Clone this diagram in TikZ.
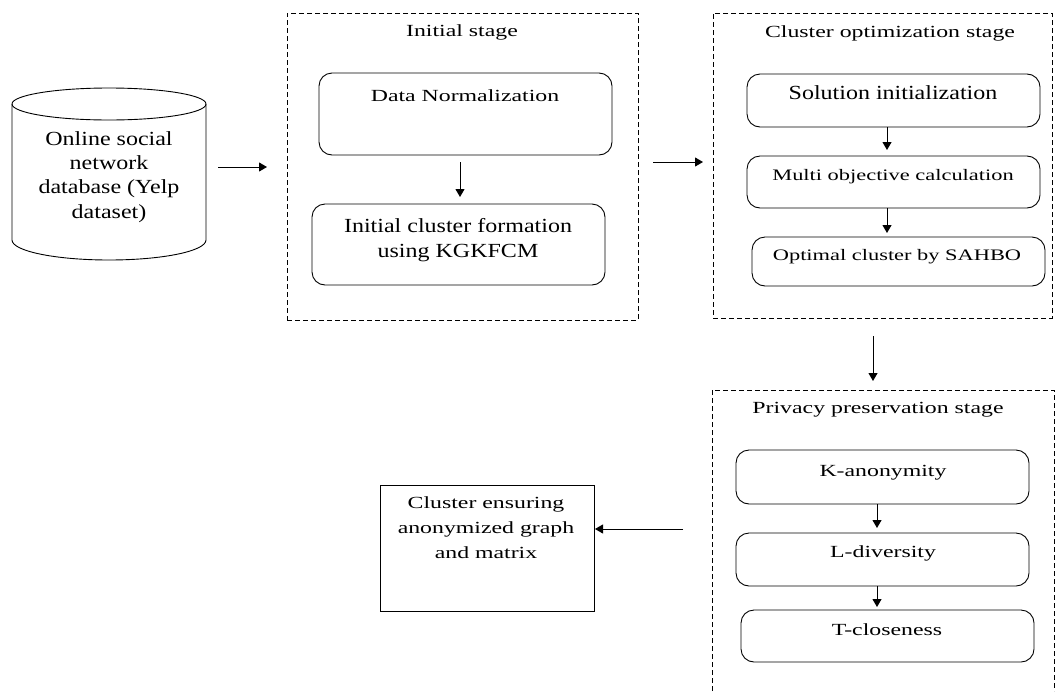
\documentclass[tikz,border=0pt]{standalone}
\usepackage{fontspec}
\setmainfont{Liberation Serif}
\newfontfamily\fS[FakeStretch=1.4]{Liberation Serif}
\newfontfamily\fM[FakeStretch=1.2]{Liberation Serif}
\usetikzlibrary{arrows.meta}
\begin{document}
\begin{tikzpicture}[x=1pt,y=-1pt,
  rbox/.style={draw,line width=0.9pt,rounded corners=13pt,inner sep=0pt,outer sep=0pt},
  sbox/.style={draw,line width=0.9pt,inner sep=0pt,outer sep=0pt},
  stagebox/.style={draw,line width=0.9pt,dash pattern=on 5pt off 3pt,inner sep=0pt,outer sep=0pt},
  arr/.style={line width=1pt,-{Triangle[length=8pt,width=9pt]}},
  tS/.style={inner sep=0pt,font=\fS\fontsize{17}{25}\selectfont},
  tSs/.style={inner sep=0pt,font=\fS\fontsize{16}{24}\selectfont},
  tM/.style={inner sep=0pt,font=\fM\fontsize{20}{24.4}\selectfont}]
\useasboundingbox (0,0) rectangle (1056,691);
% database cylinder
\draw[line width=0.9pt] (12,104) -- (12,240) arc[start angle=180,end angle=0,x radius=97,y radius=20] -- (206,104);
\draw[line width=0.9pt] (109,104) ellipse[x radius=97,y radius=16];
\node[tM,align=center,anchor=north] (db) at (109,131) {Online social\\network\\database (Yelp\\dataset)};
\coordinate (dbR) at (206,167);
% initial stage
\node[stagebox,minimum width=351pt,minimum height=307pt] (s1) at (462.5,166.5) {};
\node[tS,anchor=base] (s1t) at (462,36) {Initial stage};
\node[rbox,minimum width=293pt,minimum height=82pt] (dn) at (465.5,114) {};
\node[tS,anchor=base] (dnt) at (465,101) {Data Normalization};
\node[rbox,minimum width=293pt,minimum height=81pt] (ic) at (458.5,244.5) {};
\node[tM,align=center,anchor=north] (ict) at (458,218.5) {Initial cluster formation\\using KGKFCM};
% cluster optimization stage
\node[stagebox,minimum width=339pt,minimum height=305pt] (s2) at (882.5,165.5) {};
\node[tS,anchor=base] (s2t) at (890,37) {Cluster optimization stage};
\node[rbox,minimum width=293pt,minimum height=53pt] (si) at (893.5,100.5) {};
\node[tM,anchor=base] (sit) at (893,99) {Solution initialization};
\node[rbox,minimum width=293pt,minimum height=52pt] (mo) at (893.5,182) {};
\node[tSs,anchor=base] (mot) at (893,180) {Multi objective calculation};
\node[rbox,minimum width=293pt,minimum height=49pt] (oc) at (898.5,261.5) {};
\node[tSs,anchor=base] (oct) at (897,260) {Optimal cluster by SAHBO};
% privacy preservation stage
\draw[line width=0.9pt,dash pattern=on 5pt off 3pt] (712,691) -- (712,390) -- (1054,390) -- (1054,691);
\coordinate (pTop) at (873,390);
\coordinate (pL) at (712,529);
\node[tS,anchor=base] (s3t) at (878,413) {Privacy preservation stage};
\node[rbox,minimum width=293pt,minimum height=54pt] (ka) at (882.5,477) {};
\node[tS,anchor=base] (kat) at (883,476) {K-anonymity};
\node[rbox,minimum width=293pt,minimum height=53pt] (ld) at (882.5,559.5) {};
\node[tS,anchor=base] (ldt) at (883,557) {L-diversity};
\node[rbox,minimum width=293pt,minimum height=52pt] (tc) at (887.5,636) {};
\node[tS,anchor=base] (tct) at (887,635) {T-closeness};
% output
\node[sbox,minimum width=214pt,minimum height=126pt] (ce) at (487,548) {};
\node[tS,align=center,anchor=north] (cet) at (486,496.5) {Cluster ensuring\\anonymized graph\\and matrix};
% connectors
\draw[arr,shorten <=12pt,shorten >=20pt] (dbR) -- (dbR -| s1.west);
\draw[arr,shorten <=7pt,shorten >=7pt] (dn.south -| 460,0) -- (ic.north -| 460,0);
\draw[arr,shorten <=15pt,shorten >=10pt] (s1.east |- 0,162) -- (s2.west |- 0,162);
\draw[arr,shorten >=6pt] (si.south -| 887,0) -- (mo.north -| 887,0);
\draw[arr,shorten >=4pt] (mo.south -| 887,0) -- (oc.north -| 887,0);
\draw[arr,shorten <=18pt,shorten >=9pt] (pTop |- s2.south) -- (pTop);
\draw[arr,shorten >=5pt] (ka.south -| 877,0) -- (ld.north -| 877,0);
\draw[arr,shorten >=3pt] (ld.south -| 877,0) -- (tc.north -| 877,0);
\draw[arr,shorten <=29pt,shorten >=1pt] (pL) -- (pL -| ce.east);
\end{tikzpicture}
\end{document}
